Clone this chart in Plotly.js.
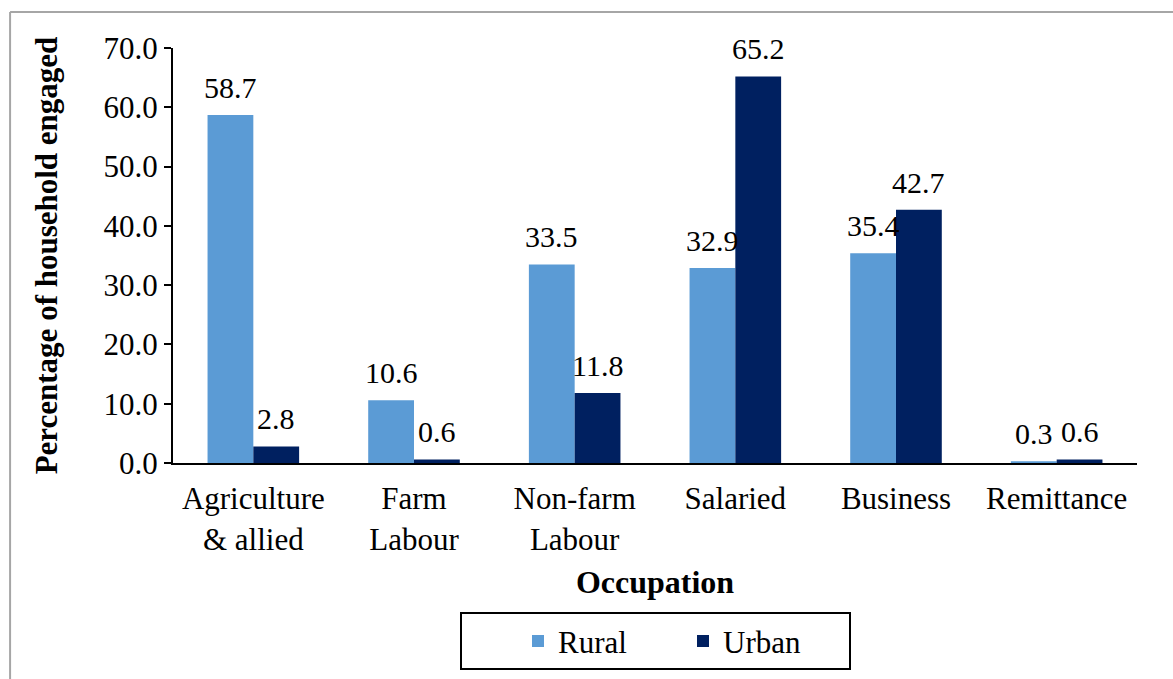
<!DOCTYPE html>
<html>
<head>
<meta charset="utf-8">
<script src="https://cdn.plot.ly/plotly-3.0.1.min.js"></script>
<style>html,body{margin:0;padding:0;background:#fff;}#chart{width:1173px;height:679px;}</style>
</head>
<body>
<div id="chart"></div>
<script>
const categories = ["Agriculture<br>& allied", "Farm<br>Labour", "Non-farm<br>Labour", "Salaried", "Business", "Remittance"];
const rural = [58.7, 10.6, 33.5, 32.9, 35.4, 0.3];
const urban = [2.8, 0.6, 11.8, 65.2, 42.7, 0.6];
const yTicks = [0, 10, 20, 30, 40, 50, 60, 70];

const FONT = '"Liberation Serif", "Times New Roman", serif';
const W = 1173, H = 679;
const M = {l: 173, r: 36, t: 48, b: 216};
const BARGAP = 0.43;
// half of one bar's pixel width, used to centre each value label over its own bar
const halfBar = ((W - M.l - M.r) / categories.length) * (1 - BARGAP) / 4;

const traces = [
  {type: "bar", name: "Rural", x: categories, y: rural, marker: {color: "#5B9BD5"}, hoverinfo: "skip"},
  {type: "bar", name: "Urban", x: categories, y: urban, marker: {color: "#002060"}, hoverinfo: "skip"}
];

const annotations = [];
[[rural, -1], [urban, 1]].forEach(([vals, side]) => {
  vals.forEach((v, i) => {
    annotations.push({x: categories[i], y: v, xref: "x", yref: "y", text: v.toFixed(1),
      showarrow: false, xanchor: "center", yanchor: "bottom", xshift: side * halfBar, yshift: 9,
      font: {family: FONT, size: 30, color: "#000"}});
  });
});

const layout = {
  width: W, height: H,
  margin: {l: M.l, r: M.r, t: M.t, b: M.b, autoexpand: false},
  paper_bgcolor: "#fff", plot_bgcolor: "#fff",
  font: {family: FONT, size: 31, color: "#000"},
  barmode: "group", bargap: BARGAP, bargroupgap: 0,
  showlegend: true,
  legend: {orientation: "h", x: 0.5, xanchor: "center", y: -0.36, yanchor: "top",
           bordercolor: "#000", borderwidth: 2, font: {family: FONT, size: 31, color: "#000"},
           entrywidth: 120, entrywidthmode: "pixels",
           title: {text: "&nbsp;&nbsp;&nbsp;&nbsp;&nbsp;&nbsp;", side: "left", font: {family: FONT, size: 31}}},
  xaxis: {showline: true, linecolor: "#000", linewidth: 2, ticks: "", showgrid: false, automargin: false,
          tickfont: {family: FONT, size: 31, color: "#000"}, ticklabelstandoff: 7,
          title: {text: "<b>Occupation</b>", font: {family: FONT, size: 32, color: "#000"}, standoff: 15}},
  yaxis: {range: [0, 70], tickvals: yTicks, ticktext: yTicks.map(v => v.toFixed(1)), automargin: false,
          showline: true, linecolor: "#000", linewidth: 2, ticks: "outside", ticklen: 7,
          tickcolor: "#000", tickwidth: 2, showgrid: false, zeroline: false,
          tickfont: {family: FONT, size: 31, color: "#000"},
          title: {text: "<b>Percentage of household engaged</b>", font: {family: FONT, size: 31, color: "#000"}, standoff: 37}},
  annotations: annotations,
  shapes: [
    {type: "line", xref: "paper", yref: "paper", x0: -0.169, x1: 1.1, y0: 1.087, y1: 1.087,
     line: {color: "#A6A6A6", width: 2}},
    {type: "line", xref: "paper", yref: "paper", x0: -0.169, x1: -0.169, y0: 1.087, y1: -0.6,
     line: {color: "#A6A6A6", width: 2}}
  ]
};

Plotly.newPlot("chart", traces, layout, {displayModeBar: false, staticPlot: true});
</script>
</body>
</html>
